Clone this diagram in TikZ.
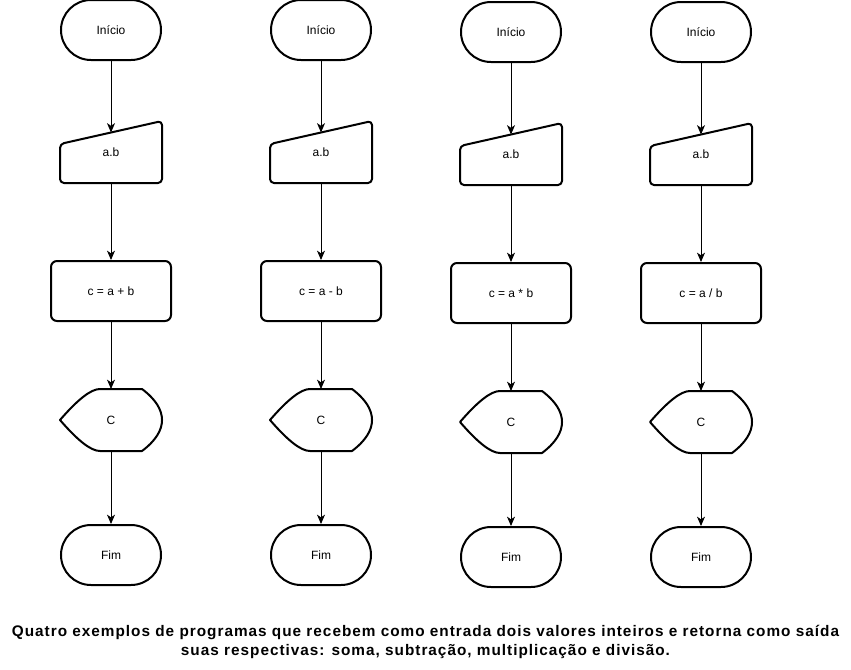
\documentclass[tikz,border=0pt]{standalone}
\usepackage{fontspec}
\setmainfont{Liberation Sans}
\usetikzlibrary{calc,arrows.meta}
\tikzset{
  term/.style={draw,line width=1.5pt,rounded corners=22.5pt,minimum width=75pt,minimum height=45pt,inner sep=0pt,font=\fontsize{9}{11}\selectfont},
  proc/.style={draw,line width=1.5pt,rounded corners=4.5pt,minimum width=90pt,minimum height=45pt,inner sep=0pt,font=\fontsize{9}{11}\selectfont},
  caixa/.style={minimum width=75pt,minimum height=45pt,inner sep=0pt,outer sep=0.75pt,font=\fontsize{9}{11}\selectfont},
  forma/.style={line width=1.5pt,line join=round},
  seta/.style={-{Stealth[length=7pt,width=6pt,inset=2pt]},line width=0.75pt}
}
\begin{document}
\begin{tikzpicture}[x=0.75pt,y=-0.75pt]
\useasboundingbox (0,0) rectangle (851,669);
\foreach \cx/\dy/\expr [count=\i] in {111/0/{c = a + b},321/0/{c = a - b},511/2/{c = a * b},701/2/{c = a / b}}{
  \node[term] (ini\i) at (\cx,30+\dy) {Início};
  % entrada manual
  \node[caixa] (ent\i) at (\cx,152+\dy) {a.b};
  \draw[forma,rounded corners=3pt] ($(ent\i.north west)+(0,23)$) -- (ent\i.north east) -- (ent\i.south east) -- (ent\i.south west) -- cycle;
  \coordinate (topo\i) at ($(ent\i.north)+(0,11.5)$);
  \node[proc] (calc\i) at (\cx,291+\dy) {\expr};
  % saida (display)
  \node[caixa] (sai\i) at (\cx,420+\dy) {C};
  \draw[forma] (sai\i.west) .. controls +(17.3,-20) and +(-9.3,0) .. ($(sai\i.north west)+(40,0)$)
    -- ($(sai\i.north east)+(-20,0)$) .. controls +(26.7,20) and +(26.7,-20) .. ($(sai\i.south east)+(-20,0)$)
    -- ($(sai\i.south west)+(40,0)$) .. controls +(-9.3,0) and +(17.3,20) .. (sai\i.west) -- cycle;
  \node[term] (fim\i) at (\cx,555+\dy) {Fim};
  \draw[seta] (ini\i) -- (topo\i);
  \draw[seta] (ent\i) -- (calc\i);
  \draw[seta] (calc\i) -- (sai\i);
  \draw[seta] (sai\i) -- (fim\i);
}
\node[font=\bfseries\fontsize{11.5}{14.25}\selectfont\addfontfeature{LetterSpace=6.5},align=center] (legenda) at (425.5,641.5)
  {Quatro exemplos de programas que recebem como entrada dois valores inteiros e retorna como saída\\
   suas respectivas: soma, subtração, multiplicação e divisão.};
\end{tikzpicture}
\end{document}
